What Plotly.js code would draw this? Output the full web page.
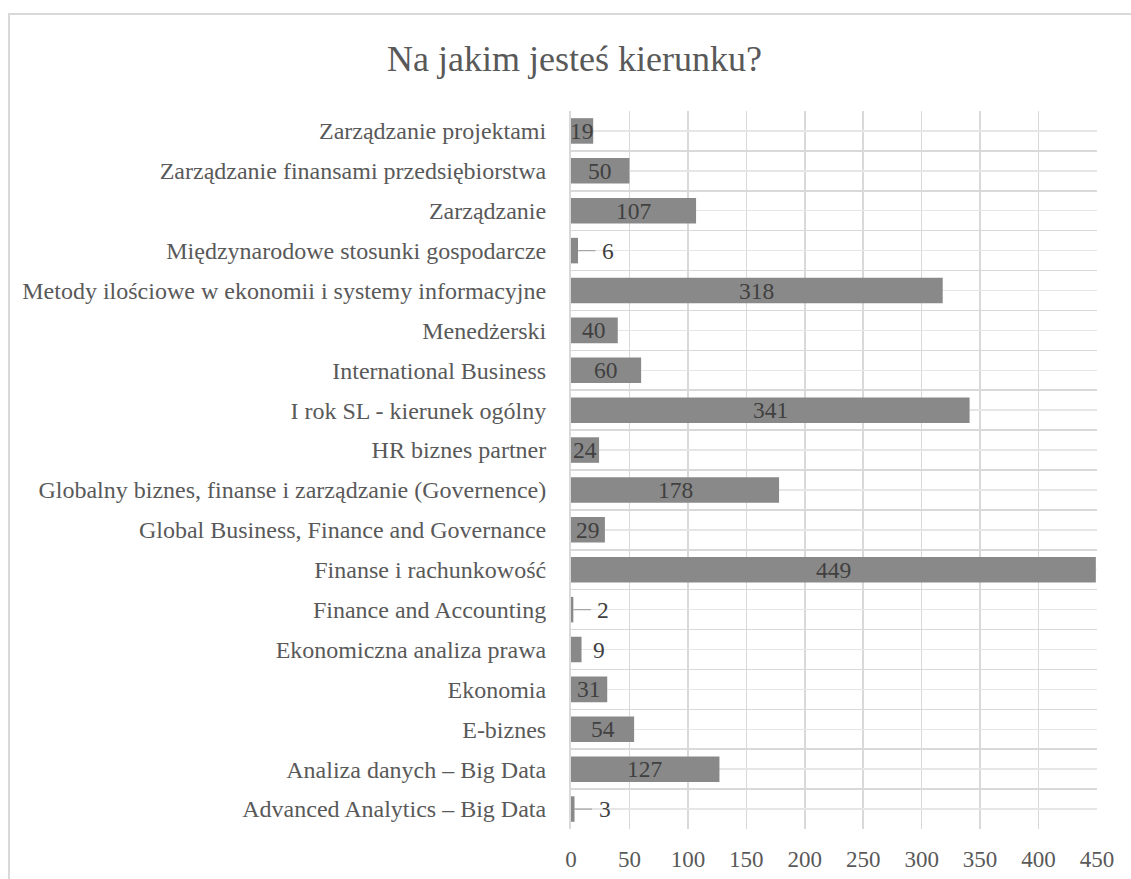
<!DOCTYPE html>
<html>
<head>
<meta charset="utf-8">
<script src="https://cdn.plot.ly/plotly-3.0.1.min.js"></script>
<style>
  html, body { margin: 0; padding: 0; background: #ffffff; overflow: hidden; }
  #chart { position: absolute; left: 0; top: 0; width: 1131px; height: 879px; }
  #frame { position: absolute; left: 8px; top: 13px; width: 1300px; height: 1000px;
           border: 2px solid #d9d9d9; pointer-events: none; box-sizing: border-box; }
</style>
</head>
<body>
<div id="chart"></div>
<div id="frame"></div>
<script>
// Categories listed bottom to top, as drawn
const categories = [
  "Advanced Analytics – Big Data",
  "Analiza danych – Big Data",
  "E-biznes",
  "Ekonomia",
  "Ekonomiczna analiza prawa",
  "Finance and Accounting",
  "Finanse i rachunkowość",
  "Global Business, Finance and Governance",
  "Globalny biznes, finanse i zarządzanie (Governence)",
  "HR biznes partner",
  "I rok SL - kierunek ogólny",
  "International Business",
  "Menedżerski",
  "Metody ilościowe w ekonomii i systemy informacyjne",
  "Międzynarodowe stosunki gospodarcze",
  "Zarządzanie",
  "Zarządzanie finansami przedsiębiorstwa",
  "Zarządzanie projektami"
];
const counts = [3, 127, 54, 31, 9, 2, 449, 29, 178, 24, 341, 60, 40, 318, 6, 107, 50, 19];
const titleText = "Na jakim jesteś kierunku?";

const FONT = '"Liberation Serif", "Times New Roman", Times, serif';

const bars = {
  type: 'bar',
  orientation: 'h',
  x: counts,
  y: categories,
  marker: { color: '#898989', line: { width: 0 } },
  hoverinfo: 'x+y',
  textposition: 'none'
};
const dummy = { type: 'scatter', x: [], y: [], yaxis: 'y2', hoverinfo: 'skip', showlegend: false };

const annotations = [];
counts.forEach((v, i) => {
  const c = categories[i];
  const f = { family: FONT, size: 23.5, color: '#404040' };
  if (v >= 15) {
    annotations.push({ x: v / 2, y: c, xref: 'x', yref: 'y', text: String(v), showarrow: false,
      xanchor: 'center', yanchor: 'middle', font: f });
  } else if (v >= 8) {
    annotations.push({ x: v, y: c, xref: 'x', yref: 'y', text: String(v), showarrow: false,
      xanchor: 'left', yanchor: 'middle', xshift: 9, font: f });
  } else {
    annotations.push({ x: v, y: c, xref: 'x', yref: 'y', text: String(v), showarrow: true,
      arrowhead: 0, arrowwidth: 1.2, arrowcolor: '#a6a6a6', ax: 30, ay: 0, startstandoff: 5,
      font: f });
  }
});

const layout = {
  width: 1131,
  height: 879,
  paper_bgcolor: '#ffffff',
  plot_bgcolor: '#ffffff',
  margin: { l: 571, r: 34, t: 111, b: 50, autoexpand: false },
  showlegend: false,
  bargap: 0.36,
  font: { family: FONT, color: '#595959' },
  title: {
    text: titleText,
    font: { family: FONT, size: 36, color: '#595959' },
    xref: 'container', yref: 'container',
    x: 0.508, xanchor: 'center',
    y: 0.933, yanchor: 'middle'
  },
  xaxis: {
    range: [0, 450],
    dtick: 50,
    tick0: 0,
    showgrid: true,
    gridcolor: '#d9d9d9',
    gridwidth: 1.5,
    zeroline: false,
    showline: false,
    ticks: '',
    ticklabelstandoff: 14,
    tickfont: { family: FONT, size: 23, color: '#595959' },
    fixedrange: true
  },
  yaxis: {
    type: 'category',
    categoryorder: 'array',
    categoryarray: categories,
    range: [-0.5, categories.length - 0.5],
    tickson: 'boundaries',
    showgrid: true,
    gridcolor: '#d9d9d9',
    gridwidth: 1.5,
    showline: true,
    linecolor: '#d9d9d9',
    linewidth: 2,
    ticks: '',
    ticklabelstandoff: 18,
    tickfont: { family: FONT, size: 24, color: '#595959' },
    fixedrange: true
  },
  yaxis2: {
    overlaying: 'y',
    range: [-0.5, categories.length - 0.5],
    tick0: 0,
    dtick: 1,
    showgrid: true,
    gridcolor: '#e6e6e6',
    gridwidth: 1.5,
    zeroline: false,
    showticklabels: false,
    ticks: '',
    fixedrange: true
  },
  annotations: annotations
};

Plotly.newPlot('chart', [bars, dummy], layout, { displayModeBar: false, staticPlot: true });
</script>
</body>
</html>
